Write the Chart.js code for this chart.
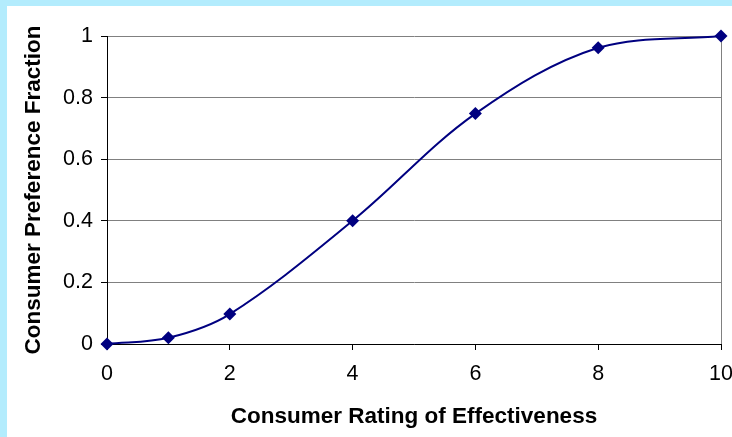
<!DOCTYPE html>
<html>
<head>
<meta charset="utf-8">
<script src="https://cdn.jsdelivr.net/npm/chart.js@4/dist/chart.umd.min.js"></script>
<style>
  html, body { margin: 0; padding: 0; width: 732px; height: 437px; overflow: hidden; background: #b3ecfd; }
  #frame { position: absolute; left: 7px; top: 6px; width: 737px; height: 431px; background: #ffffff; }
  canvas { display: block; }
</style>
</head>
<body>
<div id="frame"><canvas id="chart" width="737" height="431"></canvas></div>
<script>
// Consumer rating (x) against the fraction of consumers preferring the product (y)
const ratings = [0, 1, 2, 4, 6, 8, 10];
const preference = [0, 0.02, 0.097, 0.4, 0.748, 0.962, 1];
const xTicks = [0, 2, 4, 6, 8, 10];
const yTicks = [0, 0.2, 0.4, 0.6, 0.8, 1];

const navy = '#000080';
const gridGray = '#808080';
const fontFamily = '"Liberation Sans", Arial, sans-serif';

new Chart(document.getElementById('chart'), {
  type: 'line',
  data: {
    datasets: [{
      data: ratings.map((r, i) => ({ x: r, y: preference[i] })),
      borderColor: navy,
      backgroundColor: navy,
      borderWidth: 2,
      tension: 0.35,
      pointStyle: 'rectRot',
      pointRadius: 6.5,
      pointBorderWidth: 0,
      pointBackgroundColor: navy,
      clip: false
    }]
  },
  options: {
    responsive: false,
    animation: false,
    devicePixelRatio: 1,
    layout: { padding: { top: 30, right: 0, left: 0, bottom: 0 } },
    plugins: { legend: { display: false }, tooltip: { enabled: false } },
    scales: {
      x: {
        type: 'linear',
        min: 0,
        max: 10,
        afterBuildTicks: s => { s.ticks = xTicks.map(v => ({ value: v })); },
        afterFit: s => { s.height = 93; s.paddingRight = 23; },
        grid: {
          color: c => (c.tick && c.tick.value === 10 ? gridGray : 'rgba(0,0,0,0)'),
          tickColor: '#000000',
          tickLength: 6,
          lineWidth: 1
        },
        border: { color: '#000000', width: 1 },
        ticks: {
          color: '#000000',
          padding: 11,
          maxRotation: 0,
          font: { family: fontFamily, size: 21.5 }
        },
        title: {
          display: true,
          text: 'Consumer Rating of Effectiveness',
          color: '#000000',
          font: { family: fontFamily, size: 22.5, weight: 'bold', lineHeight: 1.2 },
          padding: { top: 0, bottom: 7 }
        }
      },
      y: {
        type: 'linear',
        min: 0,
        max: 1,
        afterBuildTicks: s => { s.ticks = yTicks.map(v => ({ value: v })); },
        afterFit: s => { s.width = 100; },
        grid: {
          color: gridGray,
          tickColor: '#000000',
          tickLength: 6,
          lineWidth: 1
        },
        border: { color: '#000000', width: 1 },
        ticks: {
          color: '#000000',
          padding: 8,
          font: { family: fontFamily, size: 21.5 },
          callback: v => String(v)
        },
        title: {
          display: true,
          text: 'Consumer Preference Fraction',
          color: '#000000',
          font: { family: fontFamily, size: 22.5, weight: 'bold', lineHeight: 1.2 },
          padding: { top: 13, bottom: 0 }
        }
      }
    }
  }
});
</script>
</body>
</html>
